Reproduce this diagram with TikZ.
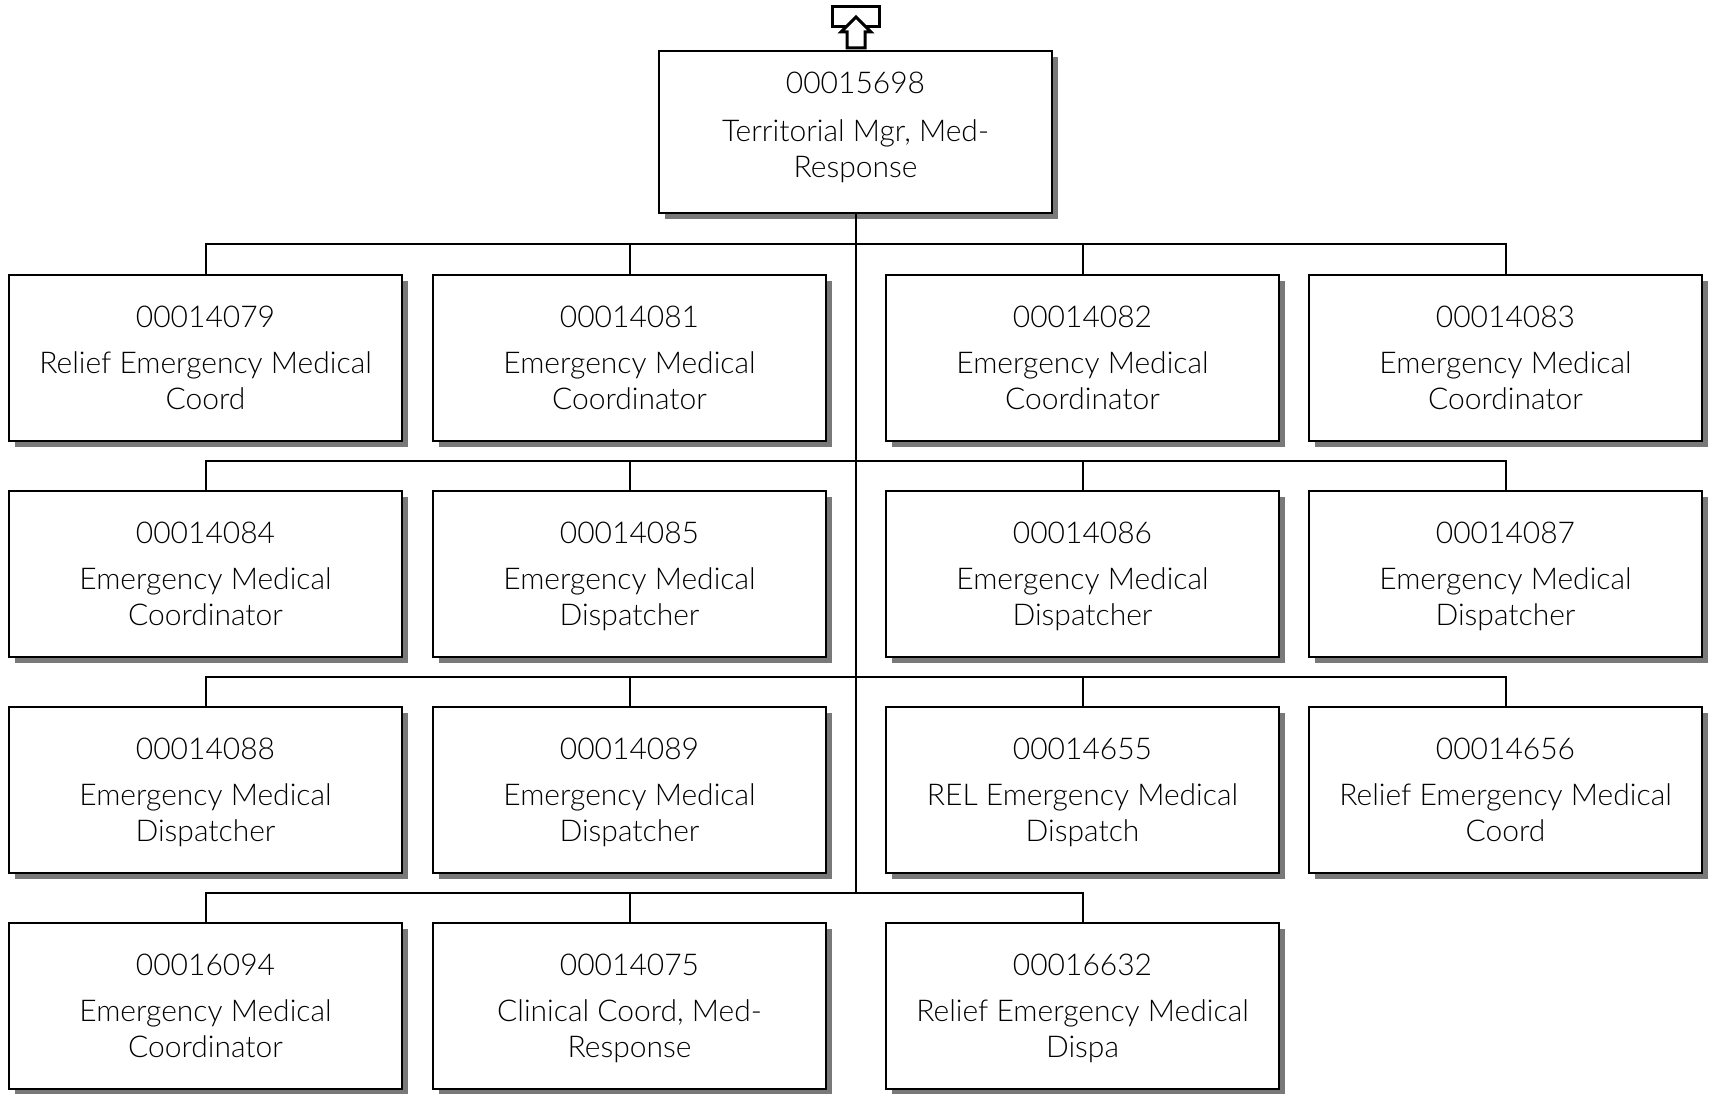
\documentclass[tikz,border=0pt]{standalone}
\usepackage{fontspec}
\setmainfont{Lato}[UprightFont=* Light]
\usetikzlibrary{shadows}
\tikzset{
  posbox/.style={draw, line width=2pt, fill=white, minimum width=393pt, minimum height=166pt,
    align=center, inner sep=0pt, font=\fontsize{30}{36}\selectfont,
    text height=104pt, text depth=2pt,
    drop shadow={shadow xshift=6pt, shadow yshift=-6pt, fill=gray!95!black, opacity=1}},
  orgline/.style={line width=2pt}
}
\begin{document}
\begin{tikzpicture}[x=1pt,y=-1pt]
  \useasboundingbox (0,0) rectangle (1711,1094);
  % top position
  \node[posbox, minimum height=162pt, text height=106pt, text depth=14pt] (top) at (855.5,132) {00015698\\[12pt]Territorial Mgr, Med-\\Response};
  % up-link icon
  \draw[line width=3pt] (832,7) rectangle (879,27);
  \draw[line width=3pt, fill=white] (856,17) -- (871,32) -- (865,32) -- (865,48) -- (847,48) -- (847,32) -- (841,32) -- cycle;
  % row 1
  \node[posbox] (p14079) at (205.5,358) {00014079\\[10pt]Relief Emergency Medical\\Coord};
  \node[posbox] (p14081) at (629.5,358) {00014081\\[10pt]Emergency Medical\\Coordinator};
  \node[posbox] (p14082) at (1082.5,358) {00014082\\[10pt]Emergency Medical\\Coordinator};
  \node[posbox] (p14083) at (1505.5,358) {00014083\\[10pt]Emergency Medical\\Coordinator};
  % row 2
  \node[posbox] (p14084) at (205.5,574) {00014084\\[10pt]Emergency Medical\\Coordinator};
  \node[posbox] (p14085) at (629.5,574) {00014085\\[10pt]Emergency Medical\\Dispatcher};
  \node[posbox] (p14086) at (1082.5,574) {00014086\\[10pt]Emergency Medical\\Dispatcher};
  \node[posbox] (p14087) at (1505.5,574) {00014087\\[10pt]Emergency Medical\\Dispatcher};
  % row 3
  \node[posbox] (p14088) at (205.5,790) {00014088\\[10pt]Emergency Medical\\Dispatcher};
  \node[posbox] (p14089) at (629.5,790) {00014089\\[10pt]Emergency Medical\\Dispatcher};
  \node[posbox] (p14655) at (1082.5,790) {00014655\\[10pt]REL Emergency Medical\\Dispatch};
  \node[posbox] (p14656) at (1505.5,790) {00014656\\[10pt]Relief Emergency Medical\\Coord};
  % row 4
  \node[posbox] (p16094) at (205.5,1006) {00016094\\[10pt]Emergency Medical\\Coordinator};
  \node[posbox] (p14075) at (629.5,1006) {00014075\\[10pt]Clinical Coord, Med-\\Response};
  \node[posbox] (p16632) at (1082.5,1006) {00016632\\[10pt]Relief Emergency Medical\\Dispa};
  % bus points on the spine
  \coordinate (bus1) at (855.5,244);
  \coordinate (bus2) at (855.5,460.5);
  \coordinate (bus3) at (855.5,676.5);
  \coordinate (bus4) at (855.5,892.5);
  \draw[orgline] (top.south) -- (bus4);
  \foreach \p in {p14079,p14081,p14082,p14083} \draw[orgline] (bus1) -| (\p.north);
  \foreach \p in {p14084,p14085,p14086,p14087} \draw[orgline] (bus2) -| (\p.north);
  \foreach \p in {p14088,p14089,p14655,p14656} \draw[orgline] (bus3) -| (\p.north);
  \foreach \p in {p16094,p14075,p16632} \draw[orgline] (bus4) -| (\p.north);
\end{tikzpicture}
\end{document}
